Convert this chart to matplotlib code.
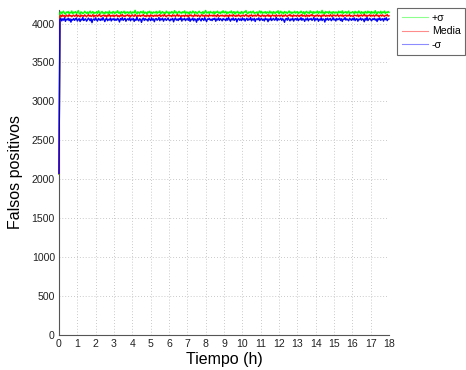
import numpy as np
import matplotlib
matplotlib.use("Agg")
import matplotlib.pyplot as plt

plt.rcParams['font.family'] = ['Liberation Sans', 'DejaVu Sans']

# Initial value of each curve at t = 0
start_plus = 2065
start_mean = 2070
start_minus = 2075

# +sigma curve (one sample every 0.05 h)
plus_sigma = [
    4138, 4152, 4127, 4146, 4160, 4133, 4121, 4149, 4141, 4157, 4129, 4144, 4136, 4163, 4125, 4148, 4139, 4155, 4131, 4142,
    4168, 4134, 4119, 4151, 4145, 4128, 4137, 4159, 4143, 4132, 4150, 4124, 4147, 4161, 4135, 4140, 4156, 4126, 4144, 4138,
    4153, 4130, 4165, 4142, 4122, 4146, 4158, 4133, 4141, 4127, 4154, 4139, 4148, 4120, 4162, 4136, 4145, 4131, 4157, 4143,
    4129, 4151, 4140, 4166, 4134, 4147, 4123, 4155, 4138, 4144, 4160, 4128, 4149, 4137, 4152, 4132, 4145, 4158, 4126, 4141,
    4150, 4135, 4171, 4139, 4124, 4153, 4143, 4130, 4156, 4147, 4136, 4162, 4128, 4148, 4142, 4121, 4154, 4139, 4160, 4133,
    4146, 4127, 4151, 4144, 4137, 4158, 4131, 4149, 4140, 4164, 4125, 4145, 4155, 4134, 4142, 4129, 4161, 4138, 4150, 4123,
    4147, 4135, 4156, 4143, 4130, 4167, 4139, 4152, 4126, 4144, 4159, 4136, 4148, 4132, 4153, 4141, 4163, 4128, 4150, 4137,
    4145, 4122, 4157, 4140, 4134, 4162, 4146, 4131, 4154, 4143, 4127, 4149, 4160, 4138, 4144, 4133, 4155, 4125, 4148, 4169,
    4136, 4142, 4151, 4129, 4158, 4139, 4146, 4132, 4157, 4124, 4150, 4143, 4161, 4135, 4147, 4128, 4153, 4140, 4165, 4137,
    4144, 4159, 4126, 4148, 4135, 4152, 4141, 4163, 4130, 4146, 4155, 4122, 4149, 4138, 4160, 4133, 4143, 4127, 4156, 4140,
    4131, 4154, 4145, 4168, 4137, 4125, 4150, 4142, 4157, 4134, 4148, 4161, 4129, 4143, 4139, 4152, 4123, 4147, 4164, 4136,
    4158, 4132, 4146, 4140, 4155, 4127, 4151, 4144, 4133, 4162, 4138, 4149, 4121, 4156, 4145, 4130, 4153, 4141, 4166, 4128,
    4142, 4160, 4135, 4148, 4124, 4157, 4139, 4150, 4131, 4145, 4163, 4136, 4152, 4128, 4147, 4141, 4159, 4134, 4144, 4155,
    4126, 4149, 4138, 4161, 4143, 4132, 4154, 4120, 4147, 4158, 4137, 4145, 4130, 4164, 4140, 4151, 4127, 4156, 4135, 4148,
    4139, 4162, 4129, 4153, 4144, 4136, 4170, 4133, 4146, 4125, 4157, 4142, 4150, 4131, 4159, 4138, 4148, 4123, 4155, 4143,
    4134, 4151, 4145, 4127, 4160, 4140, 4152, 4137, 4165, 4129, 4147, 4141, 4156, 4132, 4149, 4162, 4128, 4144, 4138, 4154,
    4147, 4125, 4158, 4139, 4150, 4133, 4163, 4143, 4130, 4155, 4136, 4148, 4122, 4157, 4145, 4134, 4161, 4140, 4152, 4127,
    4156, 4137, 4149, 4132, 4166, 4141, 4124, 4153, 4146, 4135, 4159, 4128, 4150, 4143, 4162, 4131, 4147, 4139, 4157, 4144,
]

# Mean curve
media = [
    4098, 4107, 4089, 4112, 4095, 4103, 4084, 4110, 4100, 4093, 4115, 4097, 4105, 4088, 4102, 4109, 4094, 4101, 4117, 4090,
    4106, 4099, 4086, 4111, 4096, 4104, 4092, 4113, 4100, 4087, 4103, 4114, 4095, 4108, 4091, 4099, 4116, 4085, 4106, 4097,
    4110, 4093, 4102, 4119, 4096, 4088, 4105, 4100, 4112, 4094, 4107, 4083, 4109, 4098, 4115, 4091, 4104, 4096, 4111, 4089,
    4106, 4099, 4113, 4092, 4102, 4087, 4110, 4097, 4118, 4094, 4103, 4090, 4108, 4101, 4114, 4095, 4109, 4086, 4104, 4112,
    4098, 4093, 4116, 4100, 4089, 4107, 4096, 4111, 4092, 4105, 4101, 4117, 4094, 4103, 4088, 4110, 4097, 4106, 4085, 4113,
    4099, 4104, 4091, 4108, 4096, 4112, 4093, 4107, 4100, 4115, 4090, 4102, 4109, 4095, 4120, 4098, 4087, 4106, 4101, 4111,
    4097, 4104, 4089, 4114, 4099, 4108, 4092, 4103, 4117, 4094, 4110, 4100, 4086, 4107, 4096, 4105, 4091, 4112, 4098, 4106,
    4084, 4109, 4101, 4113, 4095, 4102, 4090, 4116, 4099, 4108, 4093, 4110, 4100, 4087, 4107, 4115, 4096, 4104, 4091, 4111,
    4098, 4105, 4088, 4114, 4102, 4100, 4108, 4094, 4112, 4097, 4103, 4089, 4118, 4101, 4093, 4106, 4099, 4110, 4095, 4104,
    4092, 4111, 4097, 4106, 4085, 4113, 4100, 4107, 4094, 4116, 4098, 4103, 4090, 4109, 4096, 4114, 4101, 4088, 4105, 4099,
    4110, 4093, 4104, 4117, 4096, 4102, 4087, 4108, 4100, 4113, 4091, 4106, 4098, 4111, 4094, 4103, 4119, 4097, 4105, 4089,
    4101, 4112, 4095, 4107, 4090, 4104, 4098, 4115, 4093, 4109, 4086, 4103, 4110, 4099, 4106, 4092, 4114, 4096, 4100, 4108,
    4094, 4106, 4111, 4088, 4103, 4097, 4114, 4100, 4091, 4108, 4102, 4117, 4095, 4105, 4087, 4112, 4099, 4104, 4093, 4110,
    4103, 4090, 4109, 4098, 4116, 4094, 4105, 4101, 4088, 4113, 4096, 4107, 4092, 4110, 4100, 4118, 4097, 4104, 4089, 4106,
    4099, 4112, 4093, 4107, 4101, 4085, 4110, 4096, 4114, 4103, 4091, 4108, 4098, 4106, 4094, 4115, 4100, 4087, 4111, 4102,
    4108, 4095, 4104, 4117, 4092, 4100, 4109, 4097, 4113, 4089, 4105, 4101, 4111, 4094, 4107, 4099, 4116, 4093, 4103, 4098,
    4091, 4110, 4102, 4106, 4096, 4114, 4088, 4107, 4100, 4112, 4095, 4104, 4118, 4097, 4109, 4090, 4105, 4101, 4113, 4094,
    4106, 4098, 4111, 4093, 4103, 4115, 4099, 4108, 4087, 4104, 4110, 4096, 4112, 4100, 4092, 4107, 4102, 4116, 4095, 4101,
]

# -sigma curve
minus_sigma = [
    4052, 4068, 4035, 4061, 4044, 4075, 4029, 4057, 4048, 4070, 4038, 4063, 4019, 4055, 4046, 4066, 4041, 4059, 4073, 4033,
    4050, 4064, 4027, 4058, 4045, 4079, 4039, 4054, 4062, 4031, 4047, 4071, 4056, 4036, 4065, 4012, 4053, 4060, 4042, 4074,
    4049, 4032, 4067, 4057, 4040, 4063, 4044, 4077, 4051, 4026, 4059, 4069, 4037, 4055, 4046, 4072, 4034, 4061, 4048, 4066,
    4039, 4058, 4043, 4070, 4052, 4021, 4064, 4047, 4076, 4041, 4056, 4068, 4030, 4053, 4062, 4045, 4073, 4036, 4060, 4050,
    4067, 4028, 4057, 4042, 4081, 4049, 4035, 4063, 4054, 4016, 4059, 4071, 4040, 4065, 4047, 4056, 4033, 4069, 4052, 4038,
    4074, 4045, 4061, 4024, 4058, 4066, 4043, 4054, 4078, 4037, 4062, 4049, 4070, 4031, 4057, 4064, 4041, 4053, 4072, 4046,
    4035, 4060, 4048, 4067, 4023, 4055, 4073, 4044, 4058, 4039, 4066, 4051, 4077, 4032, 4061, 4050, 4069, 4037, 4056, 4064,
    4042, 4075, 4029, 4059, 4047, 4071, 4036, 4062, 4054, 4018, 4063, 4045, 4072, 4051, 4034, 4067, 4058, 4040, 4076, 4049,
    4026, 4061, 4055, 4068, 4043, 4057, 4038, 4065, 4052, 4070, 4030, 4059, 4046, 4074, 4041, 4063, 4053, 4035, 4066, 4050,
    4058, 4037, 4069, 4044, 4076, 4053, 4031, 4062, 4048, 4072, 4040, 4057, 4065, 4022, 4054, 4067, 4043, 4060, 4039, 4073,
    4047, 4064, 4033, 4056, 4070, 4041, 4059, 4050, 4078, 4036, 4061, 4045, 4068, 4027, 4055, 4063, 4049, 4074, 4038, 4058,
    4066, 4042, 4057, 4034, 4071, 4051, 4062, 4025, 4060, 4046, 4073, 4039, 4056, 4067, 4044, 4052, 4080, 4037, 4064, 4048,
    4055, 4070, 4040, 4063, 4049, 4017, 4058, 4066, 4043, 4075, 4052, 4035, 4061, 4047, 4069, 4032, 4057, 4064, 4045, 4071,
    4038, 4059, 4050, 4076, 4042, 4065, 4054, 4029, 4062, 4048, 4072, 4036, 4060, 4053, 4067, 4041, 4056, 4078, 4034, 4063,
    4051, 4068, 4030, 4057, 4045, 4073, 4039, 4061, 4055, 4020, 4064, 4047, 4070, 4043, 4058, 4066, 4037, 4052, 4075, 4046,
    4060, 4033, 4067, 4049, 4056, 4071, 4040, 4063, 4028, 4059, 4053, 4077, 4044, 4062, 4048, 4036, 4069, 4055, 4042, 4065,
    4047, 4074, 4038, 4058, 4064, 4031, 4057, 4050, 4072, 4043, 4061, 4054, 4024, 4066, 4045, 4079, 4039, 4056, 4068, 4051,
    4035, 4062, 4053, 4070, 4044, 4059, 4027, 4065, 4048, 4073, 4041, 4057, 4063, 4032, 4068, 4050, 4076, 4038, 4055, 4060,
]

labels = ['+σ', 'Media', '-σ']
colors = ['#00ff00', '#ff0000', '#0000ff']
x_ticks = list(range(0, 19))
y_ticks = list(range(0, 4001, 500))

series = [
    [start_plus] + plus_sigma,
    [start_mean] + media,
    [start_minus] + minus_sigma,
]
t = np.linspace(0, 18, len(series[0]))

fig = plt.figure(figsize=(4.66, 3.70), dpi=100)
ax = fig.add_axes([59 / 466, 1 - 334.7 / 370, 330 / 466, (334.7 - 10) / 370])

handles = []
for y, c, lab in zip(series, colors, labels):
    h, = ax.plot(t, y, color=c, lw=1.0, label=lab, zorder=3, clip_on=False)
    handles.append(h)

ax.set_xlim(0, 18)
ax.set_ylim(0, 4175)
ax.set_xticks(x_ticks)
ax.set_yticks(y_ticks)
ax.tick_params(axis='both', labelsize=7.6, length=0, pad=3, colors='#222222')

ax.grid(True, linestyle=(0, (1, 2.5)), color='#b8b8b8', linewidth=0.6, zorder=0)
ax.set_axisbelow(True)

for side in ('top', 'right'):
    ax.spines[side].set_visible(False)
for side in ('left', 'bottom'):
    ax.spines[side].set_color('#555555')
    ax.spines[side].set_linewidth(0.8)

ax.set_xlabel('Tiempo (h)', fontsize=11.5, labelpad=2)
ax.set_ylabel('Falsos positivos', fontsize=11.5, labelpad=6)

leg = fig.legend(handles=handles, loc='upper left',
                 bbox_to_anchor=(397 / 466, 1 - 8 / 370),
                 fontsize=7.6, frameon=True, fancybox=False,
                 handlelength=2.5, handletextpad=0.35, labelspacing=0.35,
                 borderpad=0.45, borderaxespad=0)
leg.get_frame().set_edgecolor('#444444')
leg.get_frame().set_linewidth(0.8)
for line in leg.get_lines():
    line.set_alpha(0.45)
    line.set_linewidth(0.8)

fig.savefig('out.png', dpi=100)
